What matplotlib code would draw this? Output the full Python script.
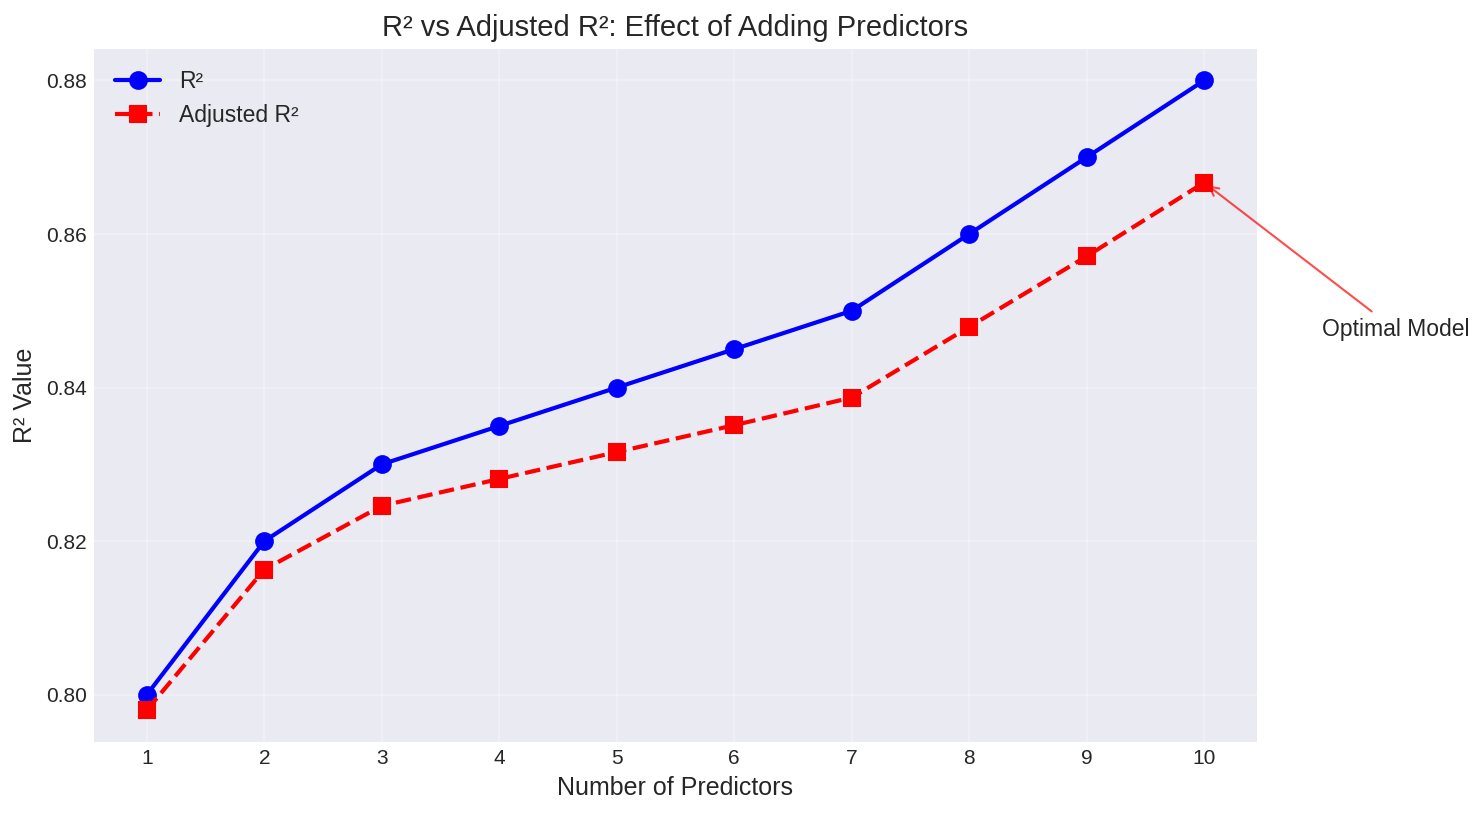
import matplotlib
matplotlib.use("Agg")
import matplotlib.pyplot as plt

predictors = [1, 2, 3, 4, 5, 6, 7, 8, 9, 10]
r2 = [0.800, 0.820, 0.830, 0.835, 0.840, 0.845, 0.850, 0.860, 0.870, 0.880]
adj_r2 = [0.7980, 0.8163, 0.8246, 0.8281, 0.8316, 0.8351, 0.8387, 0.8479, 0.8571, 0.8667]

plt.style.use('seaborn-v0_8-darkgrid')
plt.rcParams['font.family'] = ['Liberation Sans', 'DejaVu Sans']

fig = plt.figure(figsize=(1484 / 150, 815 / 150), dpi=150)
ax = fig.add_axes([94 / 1484, 1 - 741.5 / 815, (1257 - 94) / 1484, (741.5 - 49) / 815])

ax.plot(predictors, r2, 'o-', color='blue', linewidth=2, markersize=8, label='R²')
ax.plot(predictors, adj_r2, 's--', color='red', linewidth=2, markersize=8, label='Adjusted R²')

ax.set_xlabel('Number of Predictors', fontsize=12)
ax.set_ylabel('R² Value', fontsize=12)
ax.set_title('R² vs Adjusted R²: Effect of Adding Predictors', fontsize=14)
ax.set_xticks(predictors)
ax.tick_params(labelsize=10)
ax.legend(fontsize=11, loc='upper left')
ax.grid(True, alpha=0.3)

ax.annotate('Optimal Model', xy=(predictors[-1], adj_r2[-1]),
            xytext=(predictors[-1] + 1, adj_r2[-1] - 0.02),
            arrowprops=dict(arrowstyle='->', color='red', alpha=0.7),
            fontsize=11)

fig.savefig('out.png', dpi=150)
